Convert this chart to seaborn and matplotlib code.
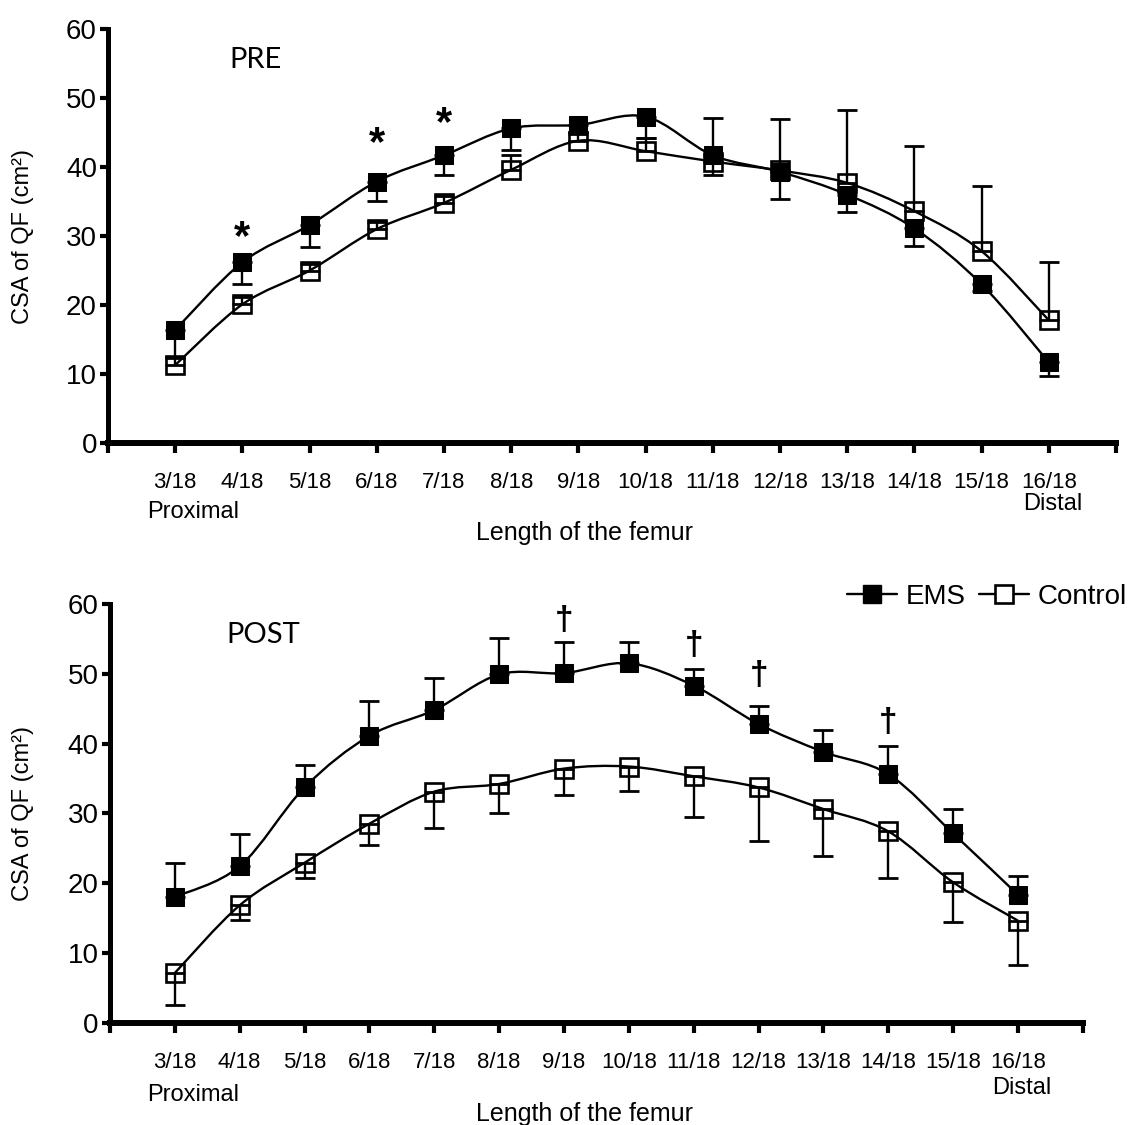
import numpy as np
import pandas as pd
import matplotlib
matplotlib.use('Agg')
import matplotlib.pyplot as plt
from matplotlib.path import Path
from matplotlib.patches import PathPatch
from matplotlib.lines import Line2D
import seaborn as sns

# Positions along the femur (fraction of length)
positions = ['3/18', '4/18', '5/18', '6/18', '7/18', '8/18', '9/18', '10/18',
             '11/18', '12/18', '13/18', '14/18', '15/18', '16/18']

# PRE: CSA of QF (cm2), EMS error drawn downward, Control error drawn upward
pre_ems = [16.4, 26.2, 31.6, 37.9, 41.7, 45.6, 46.1, 47.3, 41.7, 39.3, 36.0, 31.1, 23.0, 11.7]
pre_ems_err = [4.0, 3.2, 3.2, 2.8, 2.9, 3.1, 1.0, 3.1, 2.9, 4.0, 2.5, 2.5, 1.0, 2.0]
pre_ctrl = [11.3, 20.1, 25.0, 31.0, 34.8, 39.6, 43.8, 42.3, 40.8, 39.5, 37.7, 33.6, 27.8, 17.8]
pre_ctrl_err = [1.0, 1.0, 1.0, 1.0, 1.0, 2.2, 1.0, 1.9, 6.3, 7.4, 10.5, 9.4, 9.4, 8.4]

# POST: EMS error drawn upward, Control error drawn downward
post_ems = [18.0, 22.4, 33.7, 41.1, 44.8, 49.9, 50.1, 51.5, 48.3, 42.8, 38.8, 35.6, 27.1, 18.3]
post_ems_err = [4.9, 4.6, 3.2, 5.0, 4.6, 5.2, 4.5, 3.1, 2.4, 2.6, 3.1, 4.0, 3.5, 2.7]
post_ctrl = [7.1, 16.8, 22.9, 28.5, 33.1, 34.2, 36.4, 36.7, 35.3, 33.7, 30.6, 27.4, 20.1, 14.6]
post_ctrl_err = [4.6, 2.1, 2.2, 3.0, 5.2, 4.2, 3.8, 3.5, 5.9, 7.7, 6.7, 6.7, 5.7, 6.3]

# significance markers (position, height of the symbol)
pre_sig = ['4/18', '6/18', '7/18']
pre_sig_y = [31.6, 45.2, 48.1]
post_sig = ['9/18', '11/18', '12/18', '14/18']
post_sig_y = [57.8, 54.3, 49.9, 43.2]

sns.set_theme(style='ticks')
plt.rcParams['font.family'] = ['Liberation Sans', 'DejaVu Sans']
plt.rcParams['text.color'] = 'black'
plt.rcParams['axes.labelcolor'] = 'black'

fig = plt.figure(figsize=(11.3, 11.25), dpi=100)
ax_pre = fig.add_axes([0.0956, 0.6062, 0.892, 0.368])
ax_post = fig.add_axes([0.0973, 0.0911, 0.861, 0.372])

xpos = np.arange(1, len(positions) + 1)


def smooth_line(ax, xs, ys):
    # Excel-style smoothed line through the points (cubic Bezier segments)
    pts = np.column_stack([xs, ys]).astype(float)
    ext = np.vstack([pts[0], pts, pts[-1]])
    verts = [pts[0]]
    codes = [Path.MOVETO]
    for i in range(len(pts) - 1):
        p0, p1, p2, p3 = ext[i], ext[i + 1], ext[i + 2], ext[i + 3]
        verts += [p1 + (p2 - p0) / 6, p2 - (p3 - p1) / 6, p2]
        codes += [Path.CURVE4] * 3
    ax.add_patch(PathPatch(Path(verts, codes), fill=False, edgecolor='black',
                           linewidth=1.7, zorder=2))


def draw_panel(ax, ems, ems_err, ctrl, ctrl_err, ems_down, title, sig, sig_y, sig_mark):
    df = pd.DataFrame({'pos': xpos, 'EMS': ems, 'Control': ctrl})
    zeros = np.zeros(len(xpos))
    ems_err = np.array(ems_err)
    ctrl_err = np.array(ctrl_err)
    if ems_down:
        ems_yerr = [ems_err, zeros]
        ctrl_yerr = [zeros, ctrl_err]
    else:
        ems_yerr = [zeros, ems_err]
        ctrl_yerr = [ctrl_err, zeros]

    for col in ['EMS', 'Control']:
        smooth_line(ax, df['pos'], df[col])
    ax.errorbar(df['pos'], df['EMS'], yerr=ems_yerr, fmt='none', ecolor='black',
                elinewidth=1.7, capsize=7, capthick=2, zorder=3)
    ax.errorbar(df['pos'], df['Control'], yerr=ctrl_yerr, fmt='none', ecolor='black',
                elinewidth=1.7, capsize=7, capthick=2, zorder=3)

    sns.lineplot(data=df, x='pos', y='EMS', ax=ax, marker='s', markersize=13,
                 linestyle='none', color='black', markerfacecolor='black',
                 markeredgecolor='black', errorbar=None, zorder=4)
    sns.lineplot(data=df, x='pos', y='Control', ax=ax, marker='s', markersize=13,
                 linestyle='none', color='black', markerfacecolor='none',
                 markeredgecolor='black', markeredgewidth=1.9, errorbar=None, zorder=4)

    for lab, yv in zip(sig, sig_y):
        xi = positions.index(lab) + 1
        if sig_mark == '*':
            ax.annotate('*', xy=(xi, yv), xytext=(0, -0.58 * 30), textcoords='offset points',
                        ha='center', va='baseline', fontsize=30, fontweight='bold')
        else:
            ax.annotate(sig_mark, xy=(xi, yv), xytext=(0, -0.3 * 24), textcoords='offset points',
                        ha='center', va='baseline', fontsize=24, fontweight='bold')

    ax.set_xlim(0, 15)
    ax.set_ylim(0, 60)
    ax.set_xticks(np.arange(0, 16))
    ax.set_xticklabels([''] + positions + [''])
    ax.set_yticks(np.arange(0, 61, 10))
    sns.despine(ax=ax)
    ax.spines['left'].set_linewidth(3.6)
    ax.spines['bottom'].set_linewidth(4.3)
    ax.spines['left'].set_color('black')
    ax.spines['bottom'].set_color('black')
    ax.tick_params(axis='x', direction='out', length=7, width=3, pad=14,
                   labelsize=16, colors='black')
    ax.tick_params(axis='y', direction='out', length=6, width=3, pad=2,
                   labelsize=20, colors='black')
    ax.set_xlabel('Length of the femur', fontsize=18, color='black')
    ax.set_ylabel('CSA of QF (cm²)', fontsize=17, color='black')
    ax.text(1.8, 55.5, title, fontsize=21, family=['Lato', 'DejaVu Sans'],
            ha='left', va='center', color='black')


draw_panel(ax_pre, pre_ems, pre_ems_err, pre_ctrl, pre_ctrl_err, True,
           'PRE', pre_sig, pre_sig_y, '*')
draw_panel(ax_post, post_ems, post_ems_err, post_ctrl, post_ctrl_err, False,
           'POST', post_sig, post_sig_y, '†')

ax_pre.xaxis.set_label_coords(0.473, -0.188)
ax_pre.yaxis.set_label_coords(-0.073, 0.5)
ax_post.xaxis.set_label_coords(0.488, -0.19)
ax_post.yaxis.set_label_coords(-0.078, 0.5)

# Proximal / Distal under the end ticks
for ax, yp, yd in [(ax_pre, -50, -44), (ax_post, -52, -47)]:
    ax.annotate('Proximal', xy=(1, 0), xycoords=('data', 'axes fraction'),
                xytext=(-20, yp), textcoords='offset points', ha='left', va='center',
                fontsize=17, color='black')
    ax.annotate('Distal', xy=(14, 0), xycoords=('data', 'axes fraction'),
                xytext=(3, yd), textcoords='offset points', ha='center', va='center',
                fontsize=17, color='black')

handles = [
    Line2D([], [], color='black', lw=1.7, marker='s', markersize=13,
           markerfacecolor='black', markeredgecolor='black'),
    Line2D([], [], color='black', lw=1.7, marker='s', markersize=13,
           markerfacecolor='white', markeredgecolor='black', markeredgewidth=1.9),
]
fig.legend(handles, ['EMS', 'Control'], loc='center right',
           bbox_to_anchor=(1127 / 1130, 1 - 597 / 1125), ncol=2, frameon=False,
           fontsize=20, handlelength=1.8, handletextpad=0.3, columnspacing=0.5,
           borderpad=0, borderaxespad=0)

fig.savefig('out.png', dpi=100)
